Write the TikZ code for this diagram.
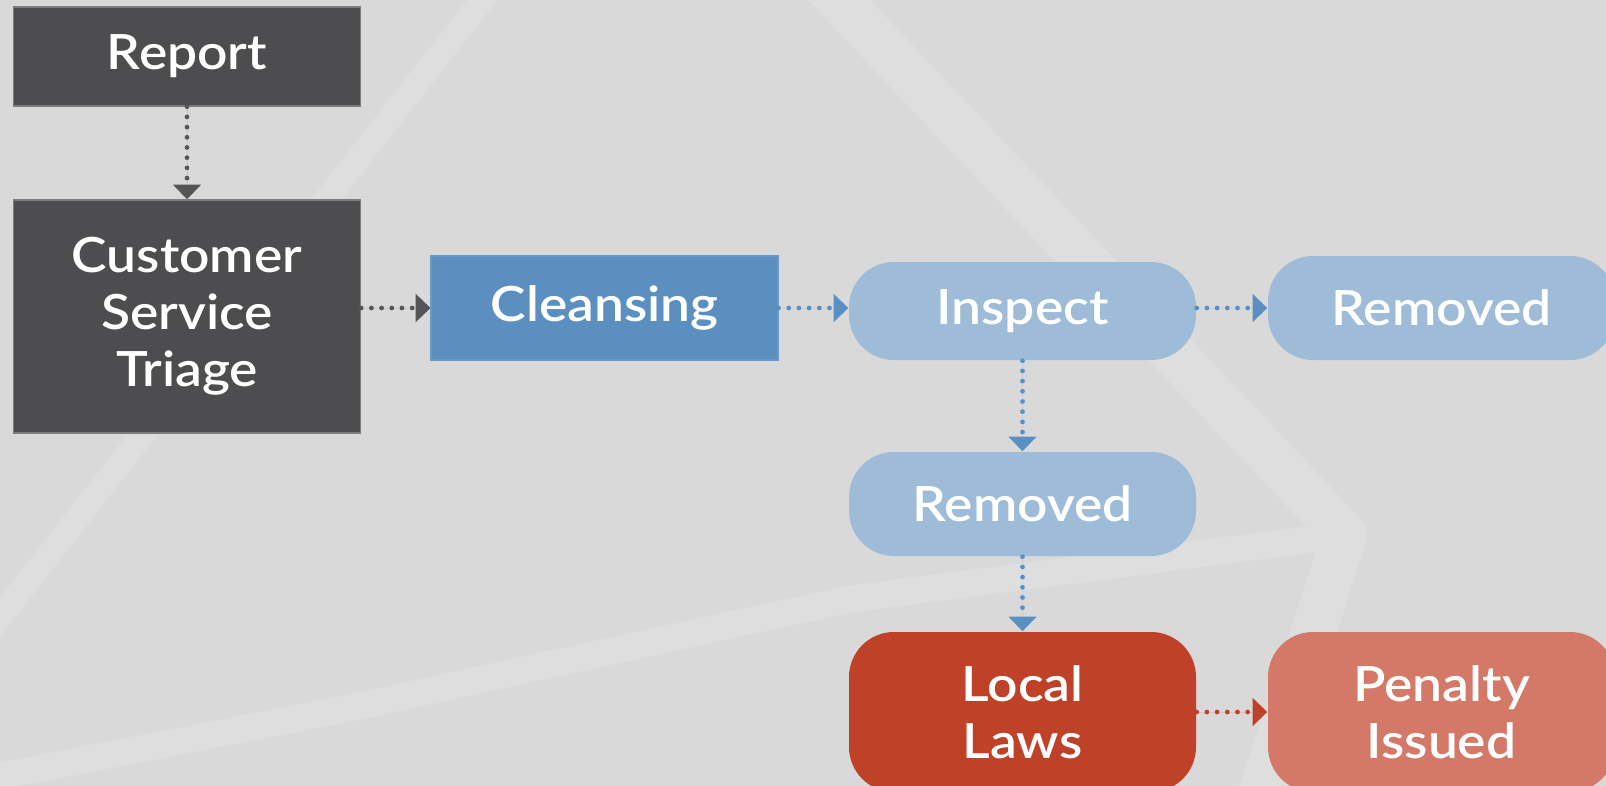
\documentclass[tikz,border=0pt]{standalone}
\usepackage{fontspec}
\setmainfont{Lato}[FakeStretch=1.1, BoldFont={Lato Semibold}, BoldFeatures={FakeStretch=1.1}]
\usetikzlibrary{arrows.meta}
\definecolor{bggray}{HTML}{D9D9D9}
\definecolor{bandgray}{HTML}{DEDEDE}
\definecolor{boxdark}{HTML}{4D4D4F}
\definecolor{boxedge}{HTML}{7C7C7E}
\definecolor{boxblue}{HTML}{5A8FBF}
\definecolor{boxpale}{HTML}{9EBCD8}
\definecolor{boxred}{HTML}{BF4128}
\definecolor{boxsalmon}{HTML}{D47968}
\definecolor{arrowgray}{HTML}{555557}
\definecolor{arrowblue}{HTML}{5A8FC1}
\tikzset{
    stage/.style={text=white, font=\bfseries\fontsize{13.8}{16.2}\selectfont,
        align=center, minimum width=3.47cm, inner sep=0pt},
    darkbox/.style={stage, fill=boxdark, draw=boxedge, line width=0.4pt},
    bluebox/.style={stage, fill=boxblue, draw=boxblue!90!white, line width=0.3pt},
    paleround/.style={stage, fill=boxpale, rounded corners=0.45cm},
    redround/.style={stage, fill=boxred, rounded corners=0.45cm},
    salmonround/.style={stage, fill=boxsalmon, rounded corners=0.45cm},
    flow/.style={line width=1.35pt, line cap=round, dash pattern=on 0pt off 2.9pt,
        -{Triangle[length=4.2pt,width=7.8pt]}},
    grayflow/.style={flow, draw=arrowgray, fill=arrowgray},
    blueflow/.style={flow, draw=arrowblue, fill=arrowblue},
    redflow/.style={flow, draw=boxred, fill=boxred},
    band/.style={draw=bandgray, line join=round, line cap=butt},
}

\begin{document}
\begin{tikzpicture}
		\useasboundingbox (0,0) rectangle (16.06,-7.85);
		\clip (-0.2,0.2) rectangle (16.26,-8.05);
		% Background and its pale bands
		\fill[bggray] (-0.2,0.2) rectangle (16.26,-8.05);
		\draw[band, line width=0.24cm]  (4.9,0.1) -- (-0.1,-6.3) ;
		\draw[band, line width=0.45cm]  (8.2,0.2) -- (13.45,-5.35) -- (12.55,-8.1) ;
		\draw[band, line width=0.27cm]  (-0.3,-7.82) -- (3.5,-7.08) -- (8.5,-5.99) -- (13.45,-5.35) ;
		% The first two steps
		\node[darkbox, minimum height=0.99cm] (report) at (1.87,-0.565) {Report};
		\node[darkbox, minimum height=2.33cm] (triage) at (1.87,-3.165) {Customer\\Service\\Triage};
		% The blue steps
		\node[bluebox, minimum height=1.04cm] (cleansing) at (6.045,-3.08) {Cleansing};
		\node[paleround, minimum height=0.98cm] (inspect) at (10.225,-3.11) {Inspect};
		\node[paleround, minimum height=1.04cm] (removedA) at (14.415,-3.08) {Removed};
		\node[paleround, minimum height=1.04cm] (removedB) at (10.225,-5.04) {Removed};
		% The red steps
		\node[redround, minimum height=1.60cm] (laws) at (10.225,-7.12) {Local\\Laws};
		\node[salmonround, minimum height=1.60cm] (penalty) at (14.415,-7.12) {Penalty\\Issued};
		% Connectors
		\draw[grayflow]  (report) -- (triage) ;
		\draw[grayflow]  (triage.east |- cleansing.west) -- (cleansing.west) ;
		\draw[blueflow]  (cleansing.east) -- (cleansing.east -| inspect.west) ;
		\draw[blueflow]  (removedA.west -| inspect.east) -- (removedA.west) ;
		\draw[blueflow]  (inspect) -- (removedB) ;
		\draw[blueflow]  (removedB) -- (laws) ;
		\draw[redflow]  (laws) -- (penalty) ;
	\end{tikzpicture}
\end{document}
